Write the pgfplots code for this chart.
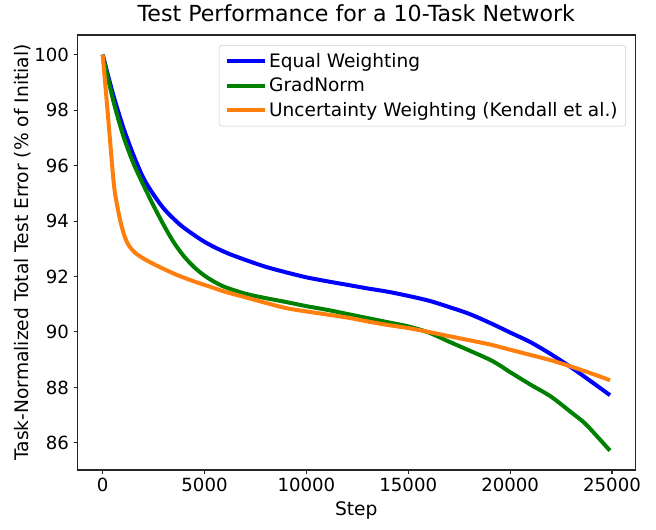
\documentclass[border=0pt]{standalone}
\usepackage{pgfplots}
\pgfplotsset{compat=1.18}
\usepackage{fontspec}
\setmainfont{DejaVu Sans}
\definecolor{mplblue}{RGB}{0,0,255}
\definecolor{mplgreen}{RGB}{0,128,0}
\definecolor{mplorange}{RGB}{255,127,14}
\begin{document}
\begin{tikzpicture}
\begin{axis}[
 name=ax,
 scale only axis, width=418.5pt, height=326.25pt,
 xmin=-1245, xmax=26145, ymin=85.02, ymax=100.71,
 xtick={0,5000,10000,15000,20000,25000}, ytick={86,88,90,92,94,96,98,100},
 scaled x ticks=false,
 /pgf/number format/assume math mode=true,
 /pgf/number format/set thousands separator={},
 tick label style={font=\fontsize{13.6}{16}\selectfont},
 label style={font=\fontsize{14}{16.5}\selectfont},
 title style={font=\fontsize{16.6}{20}\selectfont},
 title={Test Performance for a 10-Task Network},
 xlabel={Step}, ylabel={Task-Normalized Total Test Error (\% of Initial)},
 ylabel style={yshift=-4.5pt},
 tick align=outside, xtick pos=left, ytick pos=left,
 major tick length=2.8pt,
 axis line style={black!85, line width=0.8pt},
 every tick/.style={black!85, line width=0.8pt},
 legend style={at={(0.983,0.977)}, anchor=north east, draw=black!20, rounded corners=2pt,
   fill=white, fill opacity=0.8, text opacity=1, font=\fontsize{13.9}{16.4}\selectfont,
   row sep=2.2pt, inner xsep=4pt, inner ysep=4pt},
 legend cell align=left,
 legend image code/.code={\draw[#1, line width=3pt] (0pt,0pt) -- (28.5pt,0pt);},
]
\addplot[mplblue, line width=3pt, smooth] coordinates {
(0,100) (500,98.6) (1000,97.4) (1500,96.4) (2000,95.55) (2500,94.95) (3000,94.45)
(3500,94.07) (4000,93.75) (5000,93.25) (6000,92.88) (7000,92.6) (8000,92.35) (9000,92.15)
(10000,91.97) (11000,91.83) (12000,91.7) (13000,91.57) (14000,91.45) (15000,91.3)
(16000,91.13) (17000,90.9) (18000,90.65) (19000,90.33) (20000,89.98) (21000,89.63)
(22000,89.2) (23000,88.72) (24000,88.2) (24900,87.72)};
\addlegendentry{Equal Weighting}
\addplot[mplgreen, line width=3pt, smooth] coordinates {
(0,100) (500,98.4) (1000,97.1) (1500,96.1) (2000,95.3) (2500,94.55) (3000,93.85)
(3500,93.22) (4000,92.72) (4500,92.33) (5000,92.03) (5500,91.8) (6000,91.62) (7000,91.38) (8000,91.22)
(9000,91.08) (10000,90.93) (11000,90.8) (12000,90.65) (13000,90.5) (14000,90.35)
(15000,90.2) (16000,89.98) (17000,89.65) (18000,89.33) (19000,89.0) (19500,88.79)
(20000,88.55) (21000,88.1) (22000,87.67) (23000,87.1) (23600,86.75) (24000,86.45) (24900,85.72)};
\addlegendentry{GradNorm}
\addplot[mplorange, line width=3pt, smooth] coordinates {
(0,100) (260,97.8) (540,95.4) (700,94.6) (900,93.9) (1100,93.4) (1300,93.1) (1600,92.85)
(2000,92.65) (2500,92.45) (3000,92.27) (3700,92.04) (4500,91.82) (5400,91.6) (6000,91.45)
(7000,91.25) (8000,91.05) (9000,90.86) (10000,90.74) (11000,90.63) (12000,90.52)
(13000,90.38) (14000,90.25) (15000,90.14) (16000,90.0) (17000,89.85) (18000,89.7)
(19000,89.55) (20000,89.36) (21000,89.17) (22000,88.98) (23000,88.75) (24000,88.5) (24900,88.26)};
\addlegendentry{Uncertainty Weighting (Kendall et al.)}
\end{axis}
\pgfresetboundingbox
\useasboundingbox ([xshift=-57.98pt,yshift=-44.8pt]ax.south west) rectangle ([xshift=15.5pt,yshift=26.25pt]ax.north east);
\end{tikzpicture}
\end{document}
